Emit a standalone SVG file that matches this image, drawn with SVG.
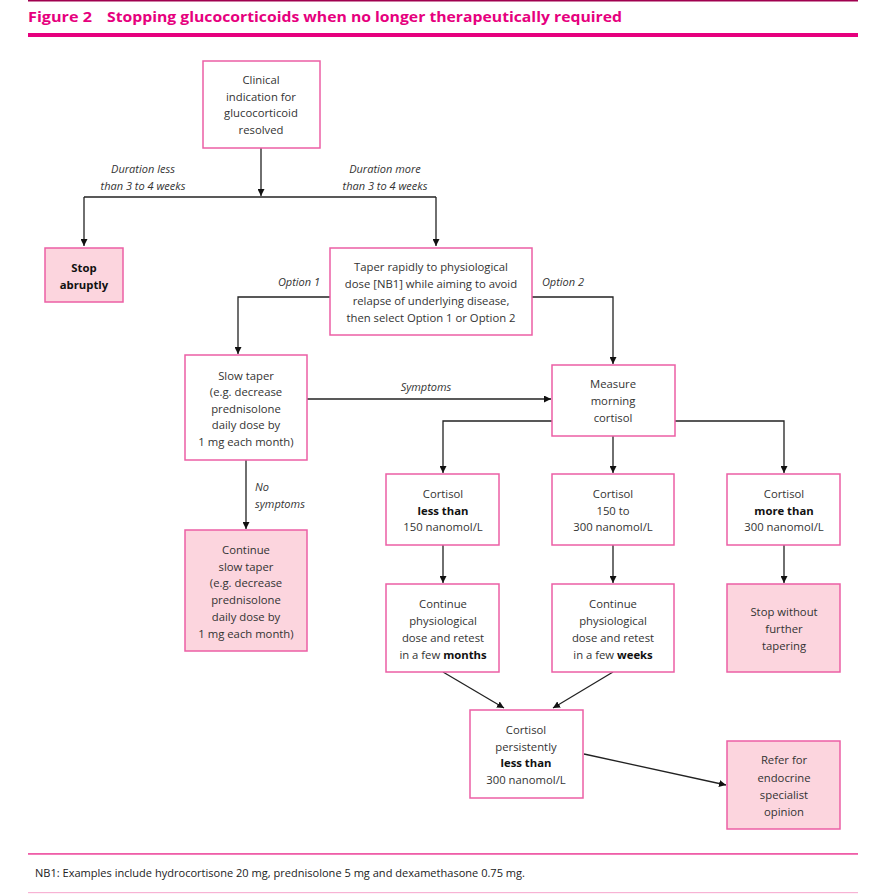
<svg xmlns="http://www.w3.org/2000/svg" width="886" height="894" viewBox="0 0 886 894">
<style>
.bx{fill:#ffffff;stroke:#ec5fa5;stroke-width:1.5}
.pk{fill:#fcd5de;stroke:#ec5fa5;stroke-width:1.5}
.t{font-family:"Open Sans","Liberation Sans",sans-serif;font-size:11.3px;fill:#333333;text-anchor:middle}
.b{font-weight:bold;fill:#111111}
.i{font-family:"Open Sans","Liberation Sans",sans-serif;font-size:11px;fill:#333333;font-style:italic}
.ln{fill:none;stroke:#222222;stroke-width:1.3}
.hd{font-family:"Open Sans","Liberation Sans",sans-serif;font-size:14.5px;font-weight:bold;fill:#e6007e}
</style>
<defs>
<marker id="ah" viewBox="0 0 10 10" refX="10" refY="5" markerWidth="7" markerHeight="7" orient="auto" markerUnits="userSpaceOnUse">
<path d="M0,0 L10,5 L0,10 z" fill="#111111"/>
</marker>
</defs>
<rect width="886" height="894" fill="#ffffff"/>
<g id="header">
<rect x="28" y="0" width="830" height="1.5" fill="#a0004f"/>
<text class="hd" x="28" y="22" textLength="64" lengthAdjust="spacingAndGlyphs">Figure 2</text>
<text class="hd" x="107" y="22" textLength="515" lengthAdjust="spacingAndGlyphs">Stopping glucocorticoids when no longer therapeutically required</text>
<rect x="28" y="33" width="830" height="4" fill="#e6007e"/>
</g>
<g id="connectors">
<path class="ln" d="M261,148 V196" marker-end="url(#ah)"/>
<path class="ln" d="M84,197 H436"/>
<path class="ln" d="M84,197 V246" marker-end="url(#ah)"/>
<path class="ln" d="M436,197 V246" marker-end="url(#ah)"/>
<path class="ln" d="M330,297 H238 V354" marker-end="url(#ah)"/>
<path class="ln" d="M532,297 H613 V364" marker-end="url(#ah)"/>
<path class="ln" d="M307,399 H551" marker-end="url(#ah)"/>
<path class="ln" d="M246,460 V529" marker-end="url(#ah)"/>
<path class="ln" d="M552,421 H443 V473" marker-end="url(#ah)"/>
<path class="ln" d="M613,436 V473" marker-end="url(#ah)"/>
<path class="ln" d="M675,421 H784 V473" marker-end="url(#ah)"/>
<path class="ln" d="M443,545 V583" marker-end="url(#ah)"/>
<path class="ln" d="M613,545 V583" marker-end="url(#ah)"/>
<path class="ln" d="M784,545 V583" marker-end="url(#ah)"/>
<path class="ln" d="M443,672 L504,708" marker-end="url(#ah)"/>
<path class="ln" d="M613,672 L553,708" marker-end="url(#ah)"/>
<path class="ln" d="M584,754 L726,785" marker-end="url(#ah)"/>
<text class="i" text-anchor="middle" x="143" y="173">Duration less</text>
<text class="i" text-anchor="middle" x="143" y="190">than 3 to 4 weeks</text>
<text class="i" text-anchor="middle" x="385" y="173">Duration more</text>
<text class="i" text-anchor="middle" x="385" y="190">than 3 to 4 weeks</text>
<text class="i" text-anchor="middle" x="299" y="286">Option 1</text>
<text class="i" text-anchor="middle" x="563" y="286">Option 2</text>
<text class="i" text-anchor="middle" x="426" y="391">Symptoms</text>
<text class="i" x="255" y="491">No</text>
<text class="i" x="255" y="508">symptoms</text>
</g>
<g id="n_clinical">
<rect class="bx" x="203" y="61" width="117" height="87"/>
<text class="t" x="261" y="84">Clinical</text>
<text class="t" x="261" y="101">indication for</text>
<text class="t" x="261" y="117">glucocorticoid</text>
<text class="t" x="261" y="134">resolved</text>
</g>
<g id="n_stop">
<rect class="pk" x="45" y="248" width="78" height="54"/>
<text class="t b" x="84" y="272">Stop</text>
<text class="t b" x="84" y="289">abruptly</text>
</g>
<g id="n_taper">
<rect class="bx" x="330" y="248" width="202" height="87"/>
<text class="t" x="431" y="271">Taper rapidly to physiological</text>
<text class="t" x="431" y="288">dose [NB1] while aiming to avoid</text>
<text class="t" x="431" y="305">relapse of underlying disease,</text>
<text class="t" x="431" y="322">then select Option 1 or Option 2</text>
</g>
<g id="n_slow">
<rect class="bx" x="185" y="355" width="122" height="105"/>
<text class="t" x="246" y="380">Slow taper</text>
<text class="t" x="246" y="396">(e.g. decrease</text>
<text class="t" x="246" y="413">prednisolone</text>
<text class="t" x="246" y="429">daily dose by</text>
<text class="t" x="246" y="446">1 mg each month)</text>
</g>
<g id="n_measure">
<rect class="bx" x="552" y="365" width="123" height="71"/>
<text class="t" x="613" y="388">Measure</text>
<text class="t" x="613" y="405">morning</text>
<text class="t" x="613" y="422">cortisol</text>
</g>
<g id="n_continue_slow">
<rect class="pk" x="185" y="530" width="122" height="121"/>
<text class="t" x="246" y="554">Continue</text>
<text class="t" x="246" y="571">slow taper</text>
<text class="t" x="246" y="587">(e.g. decrease</text>
<text class="t" x="246" y="604">prednisolone</text>
<text class="t" x="246" y="621">daily dose by</text>
<text class="t" x="246" y="638">1 mg each month)</text>
</g>
<g id="n_less150">
<rect class="bx" x="386" y="474" width="113" height="71"/>
<text class="t" x="443" y="498">Cortisol</text>
<text class="t b" x="443" y="515">less than</text>
<text class="t" x="443" y="531">150 nanomol/L</text>
</g>
<g id="n_150to300">
<rect class="bx" x="552" y="474" width="122" height="71"/>
<text class="t" x="613" y="498">Cortisol</text>
<text class="t" x="613" y="515">150 to</text>
<text class="t" x="613" y="531">300 nanomol/L</text>
</g>
<g id="n_more300">
<rect class="bx" x="727" y="474" width="113" height="71"/>
<text class="t" x="784" y="498">Cortisol</text>
<text class="t b" x="784" y="515">more than</text>
<text class="t" x="784" y="531">300 nanomol/L</text>
</g>
<g id="n_months">
<rect class="bx" x="386" y="584" width="113" height="88"/>
<text class="t" x="443" y="608">Continue</text>
<text class="t" x="443" y="625">physiological</text>
<text class="t" x="443" y="642">dose and retest</text>
<text class="t" x="443" y="659">in a few <tspan class="b">months</tspan></text>
</g>
<g id="n_weeks">
<rect class="bx" x="552" y="584" width="122" height="88"/>
<text class="t" x="613" y="608">Continue</text>
<text class="t" x="613" y="625">physiological</text>
<text class="t" x="613" y="642">dose and retest</text>
<text class="t" x="613" y="659">in a few <tspan class="b">weeks</tspan></text>
</g>
<g id="n_stop_without">
<rect class="pk" x="727" y="584" width="113" height="88"/>
<text class="t" x="784" y="616">Stop without</text>
<text class="t" x="784" y="633">further</text>
<text class="t" x="784" y="650">tapering</text>
</g>
<g id="n_persistent">
<rect class="bx" x="470" y="710" width="113" height="88"/>
<text class="t" x="526" y="734">Cortisol</text>
<text class="t" x="526" y="751">persistently</text>
<text class="t b" x="526" y="767">less than</text>
<text class="t" x="526" y="784">300 nanomol/L</text>
</g>
<g id="n_refer">
<rect class="pk" x="727" y="741" width="113" height="88"/>
<text class="t" x="784" y="764">Refer for</text>
<text class="t" x="784" y="782">endocrine</text>
<text class="t" x="784" y="799">specialist</text>
<text class="t" x="784" y="816">opinion</text>
</g>
<g id="footer">
<rect x="28" y="853" width="830" height="1.8" fill="#ef5ea8"/>
<text x="35" y="877" font-family="Open Sans,Liberation Sans,sans-serif" font-size="10.5" fill="#222222" textLength="490" lengthAdjust="spacingAndGlyphs">NB1: Examples include hydrocortisone 20 mg, prednisolone 5 mg and dexamethasone 0.75 mg.</text>
<rect x="28" y="892" width="830" height="1.2" fill="#f7b3d4"/>
</g>
</svg>
